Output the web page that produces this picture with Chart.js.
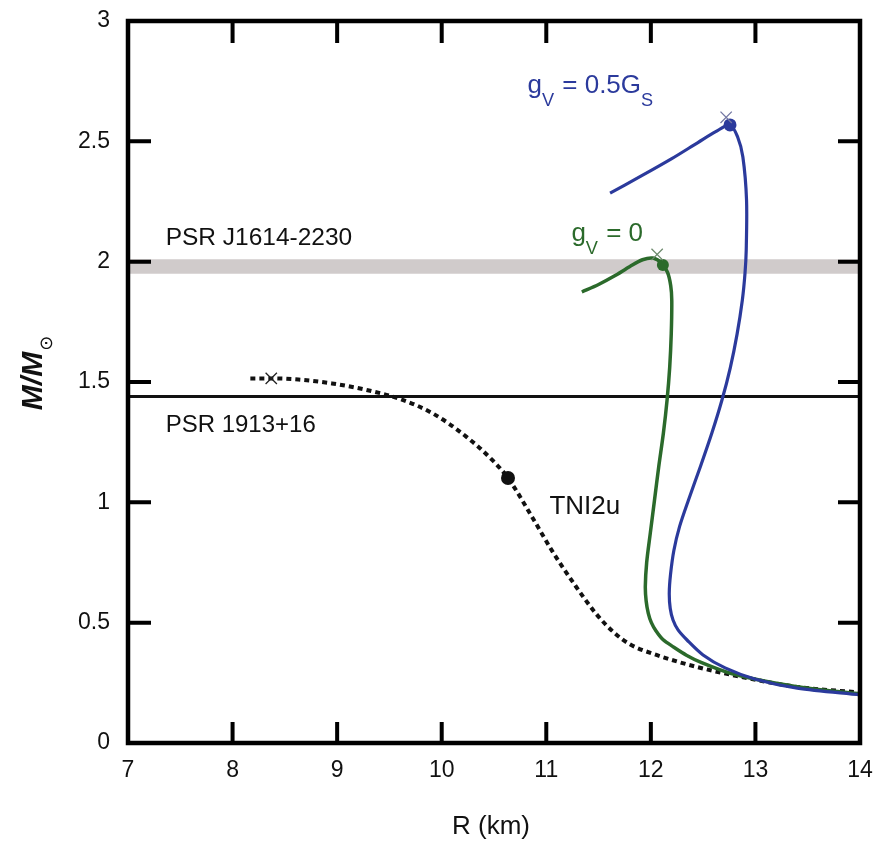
<!DOCTYPE html>
<html>
<head>
<meta charset="utf-8">
<script src="https://cdn.jsdelivr.net/npm/chart.js@4.4.1/dist/chart.umd.min.js"></script>
<style>
  html, body { margin: 0; padding: 0; background: #fff; }
  #wrap { width: 889px; height: 850px; }
</style>
</head>
<body>
<div id="wrap"><canvas id="mr"></canvas></div>
<script>
// axis ticks
const xTicks = [7, 8, 9, 10, 11, 12, 13, 14];
const yTicks = [0, 0.5, 1, 1.5, 2, 2.5, 3];

// TNI2u (dotted)
const tniR = [8.17, 8.37, 8.63, 8.95, 9.27, 9.61, 9.92, 10.24, 10.49, 10.634, 10.87, 11.06, 11.26, 11.48, 11.65, 11.80, 12.06, 12.44, 12.92, 13.40, 14.00];
const tniM = [1.515, 1.515, 1.51, 1.494, 1.468, 1.428, 1.368, 1.271, 1.173, 1.101, 0.935, 0.795, 0.665, 0.535, 0.458, 0.41, 0.365, 0.316, 0.27, 0.233, 0.21];

// gV = 0
const g0R = [11.34, 11.50, 11.65, 11.80, 11.92, 12.02, 12.10, 12.16, 12.19, 12.20, 12.195, 12.18, 12.155, 12.12, 12.075, 12.035, 11.995, 11.96, 11.947, 11.955, 11.975, 12.005, 12.05, 12.115, 12.22, 12.34, 12.48, 12.76, 13.20, 13.60, 14.00];
const g0M = [1.874, 1.905, 1.94, 1.98, 2.008, 2.015, 1.995, 1.955, 1.90, 1.84, 1.70, 1.56, 1.425, 1.288, 1.147, 1.01, 0.873, 0.75, 0.65, 0.59, 0.54, 0.50, 0.465, 0.43, 0.398, 0.365, 0.335, 0.29, 0.248, 0.222, 0.205];

// gV = 0.5 Gs
const g5R = [11.61, 11.90, 12.20, 12.45, 12.62, 12.757, 12.83, 12.88, 12.915, 12.912, 12.90, 12.875, 12.825, 12.76, 12.68, 12.585, 12.475, 12.36, 12.275, 12.22, 12.188, 12.176, 12.185, 12.212, 12.26, 12.346, 12.499, 12.71, 13.00, 13.40, 14.00];
const g5M = [2.285, 2.354, 2.428, 2.495, 2.54, 2.568, 2.518, 2.435, 2.256, 2.048, 1.95, 1.841, 1.70, 1.56, 1.425, 1.29, 1.15, 1.01, 0.90, 0.80, 0.70, 0.623, 0.56, 0.511, 0.47, 0.428, 0.366, 0.312, 0.265, 0.228, 0.20];

// marked points (blue, green, black)
const dotR = [12.757, 12.115, 10.634];
const dotM = [2.568, 1.986, 1.101];
const crossR = [12.72, 12.06, 8.37];
const crossM = [2.60, 2.03, 1.515];

// observed masses
const psr1913 = 1.44;
const psrJ1614 = [1.95, 2.01];

const BLUE = '#2b3a9c';
const GREEN = '#2b6a2b';
const FONT = '"Liberation Sans", Arial, Helvetica, sans-serif';

const pts = (xs, ys) => xs.map((v, i) => ({ x: v, y: ys[i] }));

// text notes: [parts, R, M, colour, size]
const notes = [
  [[['PSR J1614-2230']], 7.36, 2.068, '#111', 24.5],
  [[['PSR 1913+16']], 7.36, 1.294, '#111', 24],
  [[['TNI2u']], 11.03, 0.953, '#111', 26],
  [[['g'], ['V', 1], [' = 0.5G'], ['S', 1]], 10.82, 2.70, BLUE, 26],
  [[['g'], ['V', 1], [' = 0']], 11.24, 2.085, GREEN, 26]
];

function drawRich(ctx, parts, x, y, size) {
  let cx = x;
  parts.forEach(([t, sub]) => {
    ctx.font = (sub ? size * 0.7 : size) + 'px ' + FONT;
    ctx.fillText(t, cx, y + (sub ? size * 0.5 : 0));
    cx += ctx.measureText(t).width + (sub ? 1 : 0);
  });
}

const frame = {
  id: 'frame',
  afterDraw(chart) {
    const { ctx, chartArea: a, scales: { x, y } } = chart;
    ctx.save();
    ctx.strokeStyle = '#000';
    ctx.lineWidth = 4;
    ctx.lineCap = 'butt';
    ctx.beginPath();
    xTicks.slice(1, -1).forEach(v => {
      const px = x.getPixelForValue(v);
      ctx.moveTo(px, a.bottom); ctx.lineTo(px, a.bottom - 21);
      ctx.moveTo(px, a.top); ctx.lineTo(px, a.top + 22);
    });
    yTicks.slice(1, -1).forEach(v => {
      const py = y.getPixelForValue(v);
      ctx.moveTo(a.left, py); ctx.lineTo(a.left + 23, py);
      ctx.moveTo(a.right, py); ctx.lineTo(a.right - 22, py);
    });
    ctx.stroke();
    ctx.lineWidth = 4.5;
    ctx.strokeRect(a.left, a.top, a.right - a.left, a.bottom - a.top);

    ctx.textBaseline = 'alphabetic';
    ctx.textAlign = 'left';
    notes.forEach(([parts, r, m, col, size]) => {
      ctx.fillStyle = col;
      drawRich(ctx, parts, x.getPixelForValue(r), y.getPixelForValue(m), size);
    });

    // x title
    ctx.fillStyle = '#111';
    ctx.textAlign = 'center';
    ctx.font = '26px ' + FONT;
    ctx.fillText('R (km)', (a.left + a.right) / 2 - 3, 834);

    // y title
    ctx.translate(42, 381);
    ctx.rotate(-Math.PI / 2);
    ctx.font = 'italic bold 30px ' + FONT;
    const w = ctx.measureText('M/M').width;
    ctx.textAlign = 'left';
    ctx.fillText('M/M', -w / 2, 0);
    ctx.font = '18px "DejaVu Sans", sans-serif';
    ctx.fillText('\u2299', w / 2 + 1, 10);
    ctx.restore();
  }
};

new Chart(document.getElementById('mr'), {
  type: 'line',
  data: {
    datasets: [
      {
        data: pts(crossR, crossM),
        showLine: false,
        pointStyle: 'crossRot',
        pointRadius: 8,
        pointBorderWidth: 1.3,
        pointBorderColor: ['#7377a3', '#6d8a6d', '#222'],
        order: 0
      },
      {
        data: pts(dotR, dotM),
        showLine: false,
        pointStyle: 'circle',
        pointRadius: [6.5, 6, 7],
        pointBorderWidth: 0,
        pointBackgroundColor: [BLUE, GREEN, '#111'],
        order: 1
      },
      {
        data: pts(g5R, g5M),
        borderColor: BLUE,
        borderWidth: 3.2,
        tension: 0.3,
        pointRadius: 0,
        order: 2
      },
      {
        data: pts(g0R, g0M),
        borderColor: GREEN,
        borderWidth: 3.5,
        tension: 0.3,
        pointRadius: 0,
        order: 3
      },
      {
        data: pts(tniR, tniM),
        borderColor: '#111',
        borderWidth: 4,
        borderDash: [5, 4],
        cubicInterpolationMode: 'monotone',
        pointRadius: 0,
        order: 4
      },
      {
        data: pts([7, 14], [psr1913, psr1913]),
        borderColor: '#111',
        borderWidth: 3,
        pointRadius: 0,
        order: 5
      },
      {
        data: pts([7, 14], [psrJ1614[1], psrJ1614[1]]),
        borderWidth: 0,
        borderColor: 'rgba(0,0,0,0)',
        backgroundColor: 'rgba(200, 194, 194, 0.85)',
        fill: { value: psrJ1614[0] },
        pointRadius: 0,
        order: 6
      }
    ]
  },
  options: {
    responsive: true,
    maintainAspectRatio: false,
    animation: false,
    layout: { padding: { top: 21, right: 29, left: 0, bottom: 0 } },
    plugins: { legend: { display: false }, tooltip: { enabled: false } },
    scales: {
      x: {
        type: 'linear',
        min: 7,
        max: 14,
        afterBuildTicks: s => { s.ticks = xTicks.map(v => ({ value: v })); },
        afterFit: s => { s.height = 107; s.paddingLeft = 0; s.paddingRight = 0; },
        grid: { display: false, drawTicks: false },
        border: { display: false },
        ticks: { color: '#111', padding: 14, maxRotation: 0, font: { family: FONT, size: 23 }, callback: v => String(v) }
      },
      y: {
        type: 'linear',
        min: 0,
        max: 3,
        afterBuildTicks: s => { s.ticks = yTicks.map(v => ({ value: v })); },
        afterFit: s => { s.width = 128; s.paddingTop = 0; s.paddingBottom = 0; },
        grid: { display: false, drawTicks: false },
        border: { display: false },
        ticks: { color: '#111', padding: 18, font: { family: FONT, size: 23 }, callback: v => String(v) }
      }
    }
  },
  plugins: [frame]
});
</script>
</body>
</html>
